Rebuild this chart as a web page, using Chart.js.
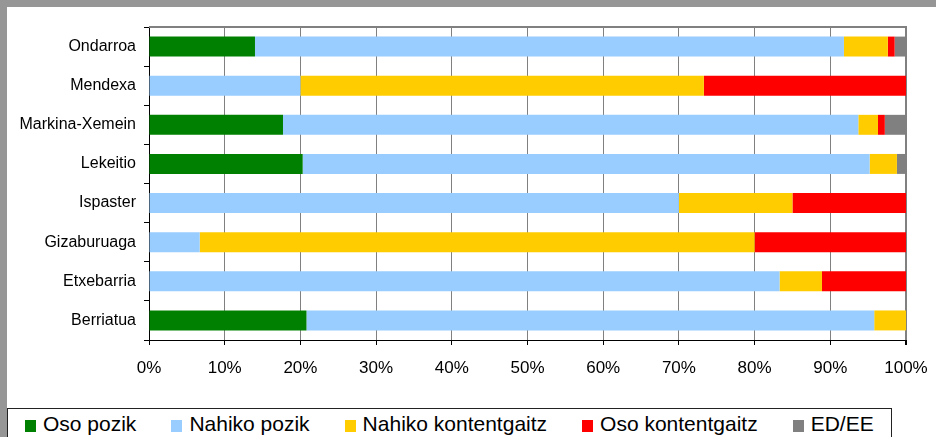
<!DOCTYPE html>
<html>
<head>
<meta charset="utf-8">
<script src="https://cdn.jsdelivr.net/npm/chart.js@4.4.0/dist/chart.umd.min.js"></script>
<style>
  html, body { margin:0; padding:0; background:#fff; }
  body { width:936px; height:437px; position:relative; overflow:hidden; font-family:"Liberation Sans", Arial, sans-serif; }
  #frameTop { position:absolute; left:0; top:0; width:936px; height:7px; background:#969696; }
  #frameLeft { position:absolute; left:0; top:0; width:7px; height:437px; background:#969696; }
  #wrap { position:absolute; left:0; top:0; width:936px; height:400px; }
  #legend { position:absolute; left:7px; top:408px; width:885px; height:40px; border:1px solid #222; box-sizing:border-box; background:#fff; }
  #legend .items { position:absolute; left:17px; top:2px; display:flex; align-items:center; height:26px; white-space:nowrap; }
  #legend .item { display:flex; align-items:center; margin-right:35px; font-size:21px; color:#000; line-height:26px; }
  #legend .sw { width:11px; height:12px; margin-right:7px; margin-top:3px; }
</style>
</head>
<body>
<div id="frameTop"></div>
<div id="frameLeft"></div>
<div id="wrap"><canvas id="c" width="936" height="400"></canvas></div>
<div id="legend"><div class="items" id="legItems"></div></div>
<script>
const categories = ["Ondarroa","Mendexa","Markina-Xemein","Lekeitio","Ispaster","Gizaburuaga","Etxebarria","Berriatua"];
const seriesNames = ["Oso pozik","Nahiko pozik","Nahiko kontentgaitz","Oso kontentgaitz","ED/EE"];
const osoPozik          = [14.0, 0,    17.7, 20.3, 0,    0,    0,    20.8];
const nahikoPozik       = [77.8, 20.0, 76.0, 74.9, 70.0, 6.7,  83.3, 75.0];
const nahikoKontentgaitz= [5.8,  53.3, 2.6,  3.6,  15.0, 73.3, 5.6,  4.2];
const osoKontentgaitz   = [0.9,  26.7, 0.9,  0,    15.0, 20.0, 11.1, 0];
const edEe              = [1.5,  0,    2.8,  1.2,  0,    0,    0,    0];
const tickValues = [0,10,20,30,40,50,60,70,80,90,100];
const colors = ["#008000","#99CCFF","#FFCC00","#FF0000","#808080"];

const seriesValues = [osoPozik, nahikoPozik, nahikoKontentgaitz, osoKontentgaitz, edEe];

const topLine = {
  id:'topLine',
  afterDraw(chart){
    const a = chart.chartArea, ctx = chart.ctx;
    ctx.save();
    ctx.strokeStyle = '#808080';
    ctx.lineWidth = 2;
    ctx.beginPath();
    ctx.moveTo(a.left, a.top);
    ctx.lineTo(a.right+1, a.top);
    ctx.stroke();
    ctx.restore();
  }
};

new Chart(document.getElementById('c'), {
  type:'bar',
  data:{
    labels: categories,
    datasets: seriesNames.map((n,i)=>({
      label:n, data:seriesValues[i], backgroundColor:colors[i],
      borderWidth:0, categoryPercentage:1.0, barPercentage:0.51
    }))
  },
  options:{
    indexAxis:'y',
    responsive:false,
    animation:false,
    events:[],
    layout:{ padding:{ left:0, right:30, top:27, bottom:0 } },
    plugins:{ legend:{display:false}, tooltip:{enabled:false} },
    scales:{
      x:{
        stacked:true, min:0, max:100,
        afterBuildTicks(s){ s.ticks = tickValues.map(v=>({value:v})); },
        afterFit(s){ s.height = 60; s.paddingLeft = 0; s.paddingRight = 0; },
        ticks:{ callback:v=>v+'%', color:'#000', font:{family:'"Liberation Sans", Arial, sans-serif', size:17}, padding:13, maxRotation:0, autoSkip:false },
        grid:{ color:'#808080', lineWidth:(c)=> c.index===10 ? 2 : 1, tickColor:'#000', tickLength:5, drawTicks:true },
        border:{ display:true, color:'#000', width:1 }
      },
      y:{
        stacked:true,
        afterFit(s){ s.width = 149; },
        ticks:{ color:'#000', font:{family:'"Liberation Sans", Arial, sans-serif', size:16}, padding:8 },
        grid:{ drawOnChartArea:false, drawTicks:true, tickLength:5, tickColor:'#000', offset:true },
        border:{ display:true, color:'#000', width:1 }
      }
    }
  },
  plugins:[topLine]
});

const leg = document.getElementById('legItems');
seriesNames.forEach((n,i)=>{
  const it = document.createElement('div'); it.className='item';
  const sw = document.createElement('span'); sw.className='sw'; sw.style.background=colors[i];
  const tx = document.createElement('span'); tx.textContent = n;
  it.appendChild(sw); it.appendChild(tx); leg.appendChild(it);
});
</script>
</body>
</html>
